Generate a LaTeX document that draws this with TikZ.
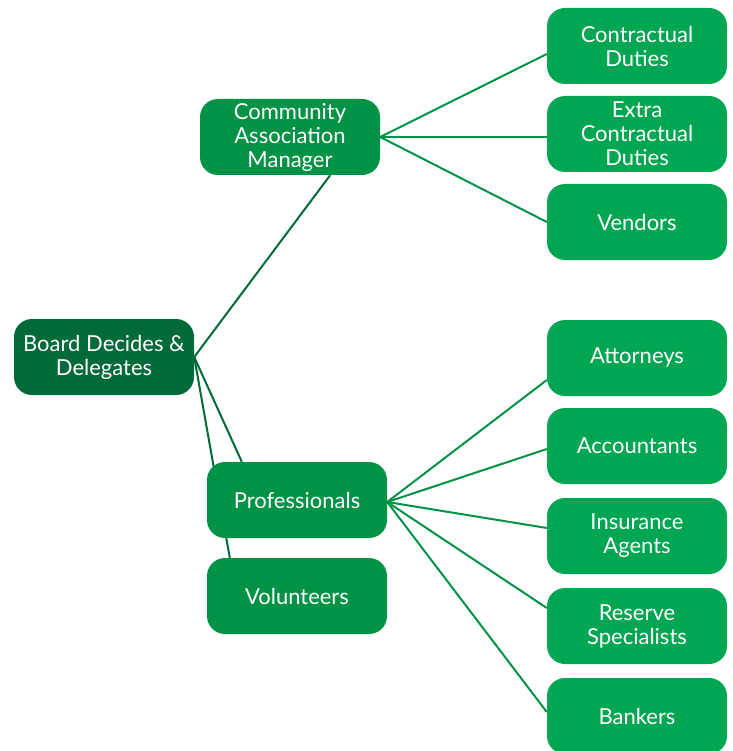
\documentclass[tikz,border=0pt]{standalone}
\usepackage{fontspec}
\setmainfont{Lato}
\usepackage{tikz}
\usetikzlibrary{shapes,calc}
\usetikzlibrary{backgrounds}
\definecolor{boardgreen}{rgb}{0.0,0.4196078,0.2196078}
\definecolor{rolegreen}{rgb}{0.0,0.5725490,0.2705882}
\definecolor{taskgreen}{rgb}{0.0,0.6509804,0.3176471}
\tikzset{roundnodeB/.style={rectangle, rounded corners=18pt, fill=boardgreen, text=white,
minimum width=180pt, minimum height=76pt, inner sep=2pt, align=center,
font=\fontsize{22}{24}\selectfont},
roundnodeR/.style={roundnodeB, fill=rolegreen},
roundnodeT/.style={roundnodeB, fill=taskgreen},
linkB/.style={draw=boardgreen, line width=2pt},
linkR/.style={draw=rolegreen, line width=2pt}}
\pgfdeclarelayer{b}
\pgfsetlayers{b,main}

\begin{document}
\begin{tikzpicture}[x=1pt,y=-1pt]
  \useasboundingbox (0,0) rectangle (732,751);
  % board and the three roles it delegates to
  \node(Board) [roundnodeB] at (104,357) {Board Decides \&\\Delegates};
  \node(CAM) [roundnodeR] at (290,137) {Community\\Association\\Manager};
  \node(Prof) [roundnodeR] at (297,500) {Professionals};
  \node(Vol) [roundnodeR] at (297,596) {Volunteers};
  % manager duties
  \node(CD) [roundnodeT] at (637,46) {Contractual\\Duties};
  \node(ECD) [roundnodeT] at (637,134) {Extra\\Contractual\\Duties};
  \node(Ven) [roundnodeT] at (637,222) {Vendors};
  % professionals
  \node(Att) [roundnodeT] at (637,358) {Attorneys};
  \node(Acc) [roundnodeT] at (637,446) {Accountants};
  \node(Ins) [roundnodeT] at (637,536) {Insurance\\Agents};
  \node(Res) [roundnodeT] at (637,626) {Reserve\\Specialists};
  \node(Bank) [roundnodeT] at (637,716) {Bankers};

\begin{pgfonlayer}{b}
\draw
(Board.east)
   edge [linkB]
([xshift=-50pt]CAM.south east);
\draw
(Board.east)
   edge [linkB]
([xshift=35pt]Prof.north west);
\draw
(Board.east)
   edge [linkB]
([xshift=23pt]Vol.north west);
\draw
(CAM.east)
   edge [linkR]
([yshift=-8pt]CD.west);
\draw
(CAM.east)
   edge [linkR]
([yshift=-3pt]ECD.west);
\draw
(CAM.east)
   edge [linkR]
(Ven.west);
\draw
([yshift=-2pt]Prof.east)
   edge [linkR]
([yshift=-22pt]Att.west);
\draw
([yshift=-2pt]Prof.east)
   edge [linkR]
([yshift=-3pt]Acc.west);
\draw
([yshift=-2pt]Prof.east)
   edge [linkR]
([yshift=8pt]Ins.west);
\draw
([yshift=-2pt]Prof.east)
   edge [linkR]
([yshift=18pt]Res.west);
\draw
([yshift=-2pt]Prof.east)
   edge [linkR]
([yshift=4pt]Bank.west);
\end{pgfonlayer}
\end{tikzpicture}
\end{document}
